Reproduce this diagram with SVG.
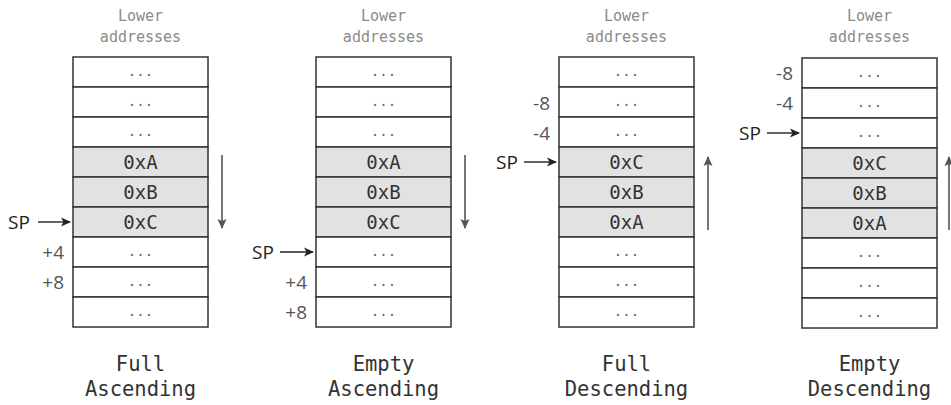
<svg xmlns="http://www.w3.org/2000/svg" width="951" height="405" viewBox="0 0 951 405">
<style>
.cell{fill:#ffffff;stroke:#333;stroke-width:1.5}
.cell.g{fill:#e2e2e2}
.mono{font-family:"DejaVu Sans Mono","Liberation Mono",monospace;text-anchor:middle}
.lower{font-size:15px;fill:#8a8a8a}
.val{font-size:19px;fill:#333}
.dots{font-size:14px;fill:#666}
.title{font-size:20.5px;fill:#333}
.sans{font-family:"Open Sans","Noto Sans","Liberation Sans",sans-serif}
.sp{font-size:19px;fill:#222}
.off{font-size:19px;fill:#555;text-anchor:end}
.sparrow{stroke:#222;stroke-width:1.4;fill:none}
.dir{stroke:#555;stroke-width:1.6;fill:none}
</style>
<defs>
<marker id="ah" markerWidth="10" markerHeight="10" refX="9" refY="5" orient="auto" markerUnits="userSpaceOnUse">
<path d="M0,0.5 L10,5 L0,9.5 L2.5,5 Z" fill="#222"/>
</marker>
<marker id="dh" markerWidth="10" markerHeight="10" refX="9" refY="5" orient="auto" markerUnits="userSpaceOnUse">
<path d="M0,0.5 L10,5 L0,9.5 L2,5 Z" fill="#555"/>
</marker>
</defs>

<g id="stack-full-ascending">
<text class="mono lower" x="140.5" y="21">Lower</text>
<text class="mono lower" x="140.5" y="42">addresses</text>
<rect class="cell" x="73" y="57" width="135" height="30"/>
<rect class="cell" x="73" y="87" width="135" height="30"/>
<rect class="cell" x="73" y="117" width="135" height="30"/>
<rect class="cell g" x="73" y="147" width="135" height="30"/>
<rect class="cell g" x="73" y="177" width="135" height="30"/>
<rect class="cell g" x="73" y="207" width="135" height="30"/>
<rect class="cell" x="73" y="237" width="135" height="30"/>
<rect class="cell" x="73" y="267" width="135" height="30"/>
<rect class="cell" x="73" y="297" width="135" height="30"/>
<text class="mono dots" x="140.5" y="76">...</text>
<text class="mono dots" x="140.5" y="106">...</text>
<text class="mono dots" x="140.5" y="136">...</text>
<text class="mono val" x="140.5" y="169">0xA</text>
<text class="mono val" x="140.5" y="199">0xB</text>
<text class="mono val" x="140.5" y="229">0xC</text>
<text class="mono dots" x="140.5" y="256">...</text>
<text class="mono dots" x="140.5" y="286">...</text>
<text class="mono dots" x="140.5" y="316">...</text>
<text class="sans sp" x="8" y="229">SP</text>
<text class="sans off" x="64" y="259">+4</text>
<text class="sans off" x="64" y="289">+8</text>
<text class="mono title" x="140.5" y="371">Full</text>
<text class="mono title" x="140.5" y="396">Ascending</text>
</g>

<g id="stack-empty-ascending">
<text class="mono lower" x="383.5" y="21">Lower</text>
<text class="mono lower" x="383.5" y="42">addresses</text>
<rect class="cell" x="316" y="57" width="135" height="30"/>
<rect class="cell" x="316" y="87" width="135" height="30"/>
<rect class="cell" x="316" y="117" width="135" height="30"/>
<rect class="cell g" x="316" y="147" width="135" height="30"/>
<rect class="cell g" x="316" y="177" width="135" height="30"/>
<rect class="cell g" x="316" y="207" width="135" height="30"/>
<rect class="cell" x="316" y="237" width="135" height="30"/>
<rect class="cell" x="316" y="267" width="135" height="30"/>
<rect class="cell" x="316" y="297" width="135" height="30"/>
<text class="mono dots" x="383.5" y="76">...</text>
<text class="mono dots" x="383.5" y="106">...</text>
<text class="mono dots" x="383.5" y="136">...</text>
<text class="mono val" x="383.5" y="169">0xA</text>
<text class="mono val" x="383.5" y="199">0xB</text>
<text class="mono val" x="383.5" y="229">0xC</text>
<text class="mono dots" x="383.5" y="256">...</text>
<text class="mono dots" x="383.5" y="286">...</text>
<text class="mono dots" x="383.5" y="316">...</text>
<text class="sans sp" x="252" y="259">SP</text>
<text class="sans off" x="307" y="289">+4</text>
<text class="sans off" x="307" y="319">+8</text>
<text class="mono title" x="383.5" y="371">Empty</text>
<text class="mono title" x="383.5" y="396">Ascending</text>
</g>

<g id="stack-full-descending">
<text class="mono lower" x="626.5" y="21">Lower</text>
<text class="mono lower" x="626.5" y="42">addresses</text>
<rect class="cell" x="559" y="57" width="135" height="30"/>
<rect class="cell" x="559" y="87" width="135" height="30"/>
<rect class="cell" x="559" y="117" width="135" height="30"/>
<rect class="cell g" x="559" y="147" width="135" height="30"/>
<rect class="cell g" x="559" y="177" width="135" height="30"/>
<rect class="cell g" x="559" y="207" width="135" height="30"/>
<rect class="cell" x="559" y="237" width="135" height="30"/>
<rect class="cell" x="559" y="267" width="135" height="30"/>
<rect class="cell" x="559" y="297" width="135" height="30"/>
<text class="mono dots" x="626.5" y="76">...</text>
<text class="mono dots" x="626.5" y="106">...</text>
<text class="mono dots" x="626.5" y="136">...</text>
<text class="mono val" x="626.5" y="169">0xC</text>
<text class="mono val" x="626.5" y="199">0xB</text>
<text class="mono val" x="626.5" y="229">0xA</text>
<text class="mono dots" x="626.5" y="256">...</text>
<text class="mono dots" x="626.5" y="286">...</text>
<text class="mono dots" x="626.5" y="316">...</text>
<text class="sans off" x="550" y="110">-8</text>
<text class="sans off" x="550" y="140">-4</text>
<text class="sans sp" x="496" y="169">SP</text>
<text class="mono title" x="626.5" y="371">Full</text>
<text class="mono title" x="626.5" y="396">Descending</text>
</g>

<g id="stack-empty-descending">
<text class="mono lower" x="869.5" y="21">Lower</text>
<text class="mono lower" x="869.5" y="42">addresses</text>
<rect class="cell" x="802" y="58" width="135" height="30"/>
<rect class="cell" x="802" y="88" width="135" height="30"/>
<rect class="cell" x="802" y="118" width="135" height="30"/>
<rect class="cell g" x="802" y="148" width="135" height="30"/>
<rect class="cell g" x="802" y="178" width="135" height="30"/>
<rect class="cell g" x="802" y="208" width="135" height="30"/>
<rect class="cell" x="802" y="238" width="135" height="30"/>
<rect class="cell" x="802" y="268" width="135" height="30"/>
<rect class="cell" x="802" y="298" width="135" height="30"/>
<text class="mono dots" x="869.5" y="77">...</text>
<text class="mono dots" x="869.5" y="107">...</text>
<text class="mono dots" x="869.5" y="137">...</text>
<text class="mono val" x="869.5" y="170">0xC</text>
<text class="mono val" x="869.5" y="200">0xB</text>
<text class="mono val" x="869.5" y="230">0xA</text>
<text class="mono dots" x="869.5" y="257">...</text>
<text class="mono dots" x="869.5" y="287">...</text>
<text class="mono dots" x="869.5" y="317">...</text>
<text class="sans off" x="793" y="80">-8</text>
<text class="sans off" x="793" y="110">-4</text>
<text class="sans sp" x="739" y="140">SP</text>
<text class="mono title" x="869.5" y="371">Empty</text>
<text class="mono title" x="869.5" y="396">Descending</text>
</g>

<g id="connectors">
<line class="sparrow" x1="38" y1="222" x2="70" y2="222" marker-end="url(#ah)"/>
<line class="sparrow" x1="280" y1="252" x2="313" y2="252" marker-end="url(#ah)"/>
<line class="sparrow" x1="524" y1="162" x2="556" y2="162" marker-end="url(#ah)"/>
<line class="sparrow" x1="767" y1="133" x2="799" y2="133" marker-end="url(#ah)"/>
<line class="dir" x1="222" y1="155" x2="222" y2="228" marker-end="url(#dh)"/>
<line class="dir" x1="465" y1="155" x2="465" y2="228" marker-end="url(#dh)"/>
<line class="dir" x1="708" y1="230" x2="708" y2="157" marker-end="url(#dh)"/>
<line class="dir" x1="949" y1="230" x2="949" y2="157" marker-end="url(#dh)"/>
</g>
</svg>
